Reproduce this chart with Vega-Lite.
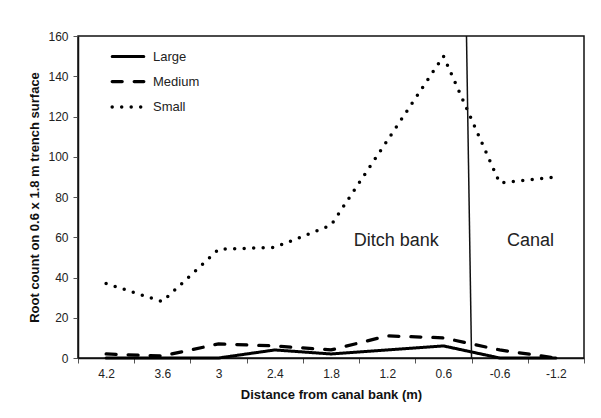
{
  "$schema": "https://vega.github.io/schema/vega-lite/v6.json",
  "autosize": "none",
  "padding": {"left": 78, "top": 36, "right": 17, "bottom": 60},
  "width": 506,
  "height": 322,
  "background": "white",
  "config": {
    "font": "Liberation Sans",
    "view": {"stroke": "#111", "strokeWidth": 1.5},
    "axis": {"labelFont": "Liberation Sans", "titleFont": "Liberation Sans", "labelColor": "#222", "titleColor": "#111", "domainColor": "#111", "tickColor": "#555", "grid": false}
  },
  "datasets": {
    "roots": [
      {"distance": "4.2", "size": "Large", "count": 0},
      {"distance": "3.6", "size": "Large", "count": 0},
      {"distance": "3", "size": "Large", "count": 0},
      {"distance": "2.4", "size": "Large", "count": 4},
      {"distance": "1.8", "size": "Large", "count": 2},
      {"distance": "1.2", "size": "Large", "count": 4},
      {"distance": "0.6", "size": "Large", "count": 6},
      {"distance": "-0.6", "size": "Large", "count": 0},
      {"distance": "-1.2", "size": "Large", "count": 0},
      {"distance": "4.2", "size": "Medium", "count": 2},
      {"distance": "3.6", "size": "Medium", "count": 1},
      {"distance": "3", "size": "Medium", "count": 7},
      {"distance": "2.4", "size": "Medium", "count": 6},
      {"distance": "1.8", "size": "Medium", "count": 4},
      {"distance": "1.2", "size": "Medium", "count": 11},
      {"distance": "0.6", "size": "Medium", "count": 10},
      {"distance": "-0.6", "size": "Medium", "count": 4},
      {"distance": "-1.2", "size": "Medium", "count": 0},
      {"distance": "4.2", "size": "Small", "count": 37},
      {"distance": "3.6", "size": "Small", "count": 28},
      {"distance": "3", "size": "Small", "count": 54},
      {"distance": "2.4", "size": "Small", "count": 55},
      {"distance": "1.8", "size": "Small", "count": 66},
      {"distance": "1.2", "size": "Small", "count": 108},
      {"distance": "0.6", "size": "Small", "count": 150},
      {"distance": "-0.6", "size": "Small", "count": 87},
      {"distance": "-1.2", "size": "Small", "count": 90}
    ],
    "divider": [{"distance": "0.6", "top": 160, "bottom": 0}],
    "ditch": [{"distance": "1.2", "label": "Ditch bank", "count": 58}],
    "canal": [{"distance": "-0.6", "label": "Canal", "count": 58}]
  },
  "layer": [
    {
      "data": {"name": "roots"},
      "mark": {"type": "line", "color": "#000", "strokeCap": "round"},
      "encoding": {
        "x": {
          "field": "distance", "type": "ordinal",
          "scale": {"type": "band", "domain": ["4.2", "3.6", "3", "2.4", "1.8", "1.2", "0.6", "-0.6", "-1.2"], "paddingInner": 0, "paddingOuter": 0},
          "axis": {"title": "Distance from canal bank (m)", "titleFontSize": 13, "titleFontWeight": "bold", "titlePadding": 9, "labelFontSize": 12, "labelAngle": 0, "labelPadding": 5, "tickBand": "extent", "tickSize": 5, "domainWidth": 1.5}
        },
        "y": {
          "field": "count", "type": "quantitative",
          "scale": {"domain": [0, 160]},
          "axis": {"title": "Root count  on 0.6 x 1.8 m trench surface", "titleFontSize": 13, "titleFontWeight": "bold", "titlePadding": 6, "labelFontSize": 12, "values": [0, 20, 40, 60, 80, 100, 120, 140, 160], "labelOverlap": false, "tickSize": 5, "labelPadding": 5, "domainWidth": 1.5}
        },
        "strokeDash": {
          "field": "size", "type": "nominal",
          "scale": {"domain": ["Large", "Medium", "Small"], "range": [[1, 0], [10, 12], [0, 9.5]]},
          "legend": {"title": null, "orient": "none", "legendX": 32, "legendY": 3, "symbolType": "stroke", "symbolSize": 1000, "symbolStrokeWidth": 3.5, "symbolStrokeColor": "#000", "labelFontSize": 13, "labelColor": "#222", "labelOffset": 7, "rowPadding": -3,
            "encode": {"symbols": {"update": {"strokeCap": {"value": "round"}}}}}
        },
        "strokeWidth": {
          "field": "size", "type": "nominal",
          "scale": {"domain": ["Large", "Medium", "Small"], "range": [3, 3.5, 5.5]},
          "legend": null
        }
      }
    },
    {
      "data": {"name": "divider"},
      "mark": {"type": "rule", "color": "#111", "strokeWidth": 1.5},
      "encoding": {
        "x": {"field": "distance", "type": "ordinal", "bandPosition": 0.91},
        "x2": {"field": "distance", "bandPosition": 1.0},
        "y": {"field": "top", "type": "quantitative"},
        "y2": {"field": "bottom"}
      }
    },
    {
      "data": {"name": "ditch"},
      "mark": {"type": "text", "fontSize": 18, "color": "#222", "font": "Liberation Sans", "align": "center", "baseline": "middle"},
      "encoding": {
        "x": {"field": "distance", "type": "ordinal", "bandPosition": 0.66},
        "y": {"field": "count", "type": "quantitative"},
        "text": {"field": "label"}
      }
    },
    {
      "data": {"name": "canal"},
      "mark": {"type": "text", "fontSize": 18, "color": "#222", "font": "Liberation Sans", "align": "center", "baseline": "middle"},
      "encoding": {
        "x": {"field": "distance", "type": "ordinal", "bandPosition": 1.05},
        "y": {"field": "count", "type": "quantitative"},
        "text": {"field": "label"}
      }
    }
  ]
}
